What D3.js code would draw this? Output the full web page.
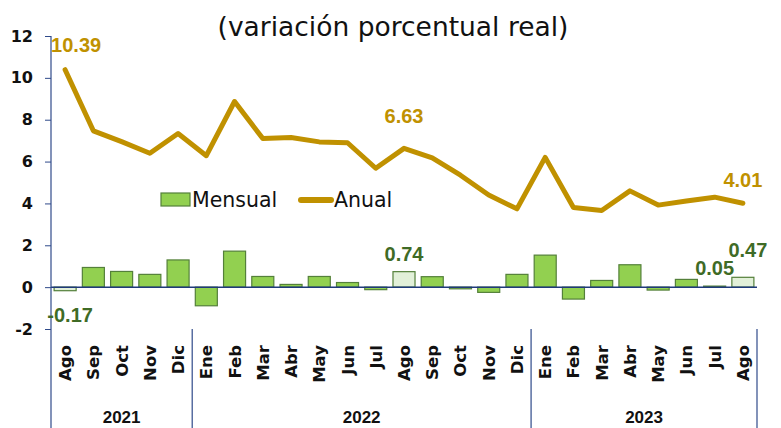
<!DOCTYPE html>
<html>
<head>
<meta charset="utf-8">
<script src="https://cdn.jsdelivr.net/npm/d3@7"></script>
<style>
  body { margin: 0; background: #fff; }
  text { font-family: "Century Gothic", "DejaVu Sans", sans-serif; }
</style>
</head>
<body>
<svg id="chart" width="781" height="428"></svg>
<script>
// months Ago 2021 .. Ago 2023
const months = ["Ago","Sep","Oct","Nov","Dic","Ene","Feb","Mar","Abr","May","Jun","Jul",
                "Ago","Sep","Oct","Nov","Dic","Ene","Feb","Mar","Abr","May","Jun","Jul","Ago"];
const years = [{label: "2021", from: 0, to: 5}, {label: "2022", from: 5, to: 17}, {label: "2023", from: 17, to: 25}];
const mensual = [-0.17, 0.94, 0.75, 0.61, 1.30, -0.89, 1.72, 0.51, 0.13, 0.51, 0.22, -0.12,
                 0.74, 0.50, -0.08, -0.25, 0.61, 1.53, -0.57, 0.32, 1.07, -0.14, 0.37, 0.05, 0.47];
const anual = [10.39, 7.47, 6.95, 6.40, 7.34, 6.28, 8.87, 7.10, 7.15, 6.94, 6.90, 5.68,
               6.63, 6.18, 5.35, 4.40, 3.74, 6.20, 3.81, 3.66, 4.60, 3.92, 4.12, 4.30, 4.01];
const yTicks = [-2, 0, 2, 4, 6, 8, 10, 12];
// points that carry a value label
const barLabels = [0, 12, 23, 24];
const lineLabels = [0, 12, 24];

const svg = d3.select("#chart");
const margin = {left: 51, top: 36, right: 24, bottom: 99};
const width = 781 - margin.left - margin.right;
const height = 428 - margin.top - margin.bottom;

const GOLD = "#C09100";
const GREEN = "#92D050";
const DARKGREEN = "#3F6B26";
const AXIS = "#2F4A8A";
const LABELFONT = "'Liberation Sans', Arial, sans-serif";

// plain hyphen for negatives, like the original
let fmt = (v) => v.toFixed(2).replace("\u2212", "-");

let x = d3.scaleBand().domain(d3.range(months.length)).range([0, width]).paddingInner(0.22).paddingOuter(0.11);
let y = d3.scaleLinear().domain([-2, 12]).range([height, 0]);

let g = svg.append("g").attr("transform", `translate(${margin.left}, ${margin.top})`);

svg.append("text")
    .attr("x", 393).attr("y", 36)
    .attr("text-anchor", "middle")
    .attr("font-size", 26.5)
    .attr("fill", "#111")
    .text("(variación porcentual real)");

// bars
g.selectAll("rect.bar")
    .data(mensual)
    .enter()
    .append("rect")
    .attr("class", "bar")
    .attr("x", (d, i) => x(i))
    .attr("y", (d) => y(Math.max(0, d)))
    .attr("width", x.bandwidth())
    .attr("height", (d) => Math.abs(y(d) - y(0)))
    .attr("fill", (d, i) => barLabels.includes(i) ? "#E2F0D9" : GREEN)
    .attr("stroke", "#54803A")
    .attr("stroke-width", 1.2);

// zero line
g.append("line")
    .attr("x1", 0).attr("x2", width)
    .attr("y1", y(0)).attr("y2", y(0))
    .attr("stroke", "#1F3A7A").attr("stroke-width", 1.5);

// line
let line = d3.line()
    .x((d, i) => x(i) + x.bandwidth() / 2)
    .y((d) => y(d));
g.append("path")
    .datum(anual)
    .attr("d", line)
    .attr("fill", "none")
    .attr("stroke", GOLD)
    .attr("stroke-width", 5)
    .attr("stroke-linejoin", "round")
    .attr("stroke-linecap", "round");

// y axis
let yAxis = g.append("g")
    .call(d3.axisLeft(y).tickValues(yTicks).tickSize(6).tickSizeOuter(0).tickFormat((d) => String(d)));
yAxis.select(".domain").remove();
yAxis.selectAll(".tick line").attr("stroke", AXIS);
yAxis.selectAll(".tick text")
    .attr("x", -18)
    .attr("font-size", 16)
    .attr("font-weight", "bold")
    .attr("fill", "#111")
    .style("font-family", "'Century Gothic', 'DejaVu Sans', sans-serif");
g.append("line")
    .attr("x1", 0).attr("x2", 0)
    .attr("y1", 0).attr("y2", 428 - margin.top)
    .attr("stroke", AXIS).attr("stroke-width", 1.2);

// month labels
g.selectAll("text.month")
    .data(months)
    .enter()
    .append("text")
    .attr("class", "month")
    .attr("transform", (d, i) => `translate(${x(i) + x.bandwidth() / 2 + 6}, ${height + 16}) rotate(-90)`)
    .attr("text-anchor", "end")
    .attr("font-size", 16.5)
    .attr("font-weight", "bold")
    .attr("fill", "#111")
    .text((d) => d);

// year separators and labels
let step = x.step();
years.forEach((yr) => {
    let xe = yr.to * step;
    g.append("line")
        .attr("x1", xe).attr("x2", xe)
        .attr("y1", height).attr("y2", 428 - margin.top)
        .attr("stroke", AXIS).attr("stroke-width", 1.2);
    g.append("text")
        .attr("x", (yr.from + yr.to) / 2 * step)
        .attr("y", 423 - margin.top)
        .attr("text-anchor", "middle")
        .attr("font-size", 17)
        .attr("font-weight", "bold")
        .attr("fill", "#111")
        .style("font-family", LABELFONT)
        .text(yr.label);
});

// value labels
const barLabelOffset = {0: [5, 35], 12: [0, -11], 23: [0, -11], 24: [5, -20]};
barLabels.forEach((i) => {
    let off = barLabelOffset[i];
    g.append("text")
        .attr("x", x(i) + x.bandwidth() / 2 + off[0])
        .attr("y", y(Math.max(0, mensual[i])) + off[1])
        .attr("text-anchor", "middle")
        .attr("font-size", 20)
        .attr("font-weight", "bold")
        .attr("fill", DARKGREEN)
        .style("font-family", LABELFONT)
        .text(fmt(mensual[i]));
});
const lineLabelOffset = {0: [11, -18], 12: [0, -25], 24: [0, -16]};
lineLabels.forEach((i) => {
    let off = lineLabelOffset[i];
    g.append("text")
        .attr("x", x(i) + x.bandwidth() / 2 + off[0])
        .attr("y", y(anual[i]) + off[1])
        .attr("text-anchor", "middle")
        .attr("font-size", 20)
        .attr("font-weight", "bold")
        .attr("fill", GOLD)
        .style("font-family", LABELFONT)
        .text(fmt(anual[i]));
});

// legend
let legend = svg.append("g").attr("transform", "translate(161, 193)");
legend.append("rect")
    .attr("x", 0).attr("y", 0).attr("width", 29).attr("height", 13)
    .attr("fill", GREEN).attr("stroke", "#54803A").attr("stroke-width", 1.2);
legend.append("text")
    .attr("x", 31).attr("y", 14)
    .attr("font-size", 20.5).attr("fill", "#111")
    .text("Mensual");
legend.append("line")
    .attr("x1", 140).attr("x2", 170).attr("y1", 7).attr("y2", 7)
    .attr("stroke", GOLD).attr("stroke-width", 6).attr("stroke-linecap", "round");
legend.append("text")
    .attr("x", 173).attr("y", 14)
    .attr("font-size", 20.5).attr("fill", "#111")
    .text("Anual");
</script>
</body>
</html>
